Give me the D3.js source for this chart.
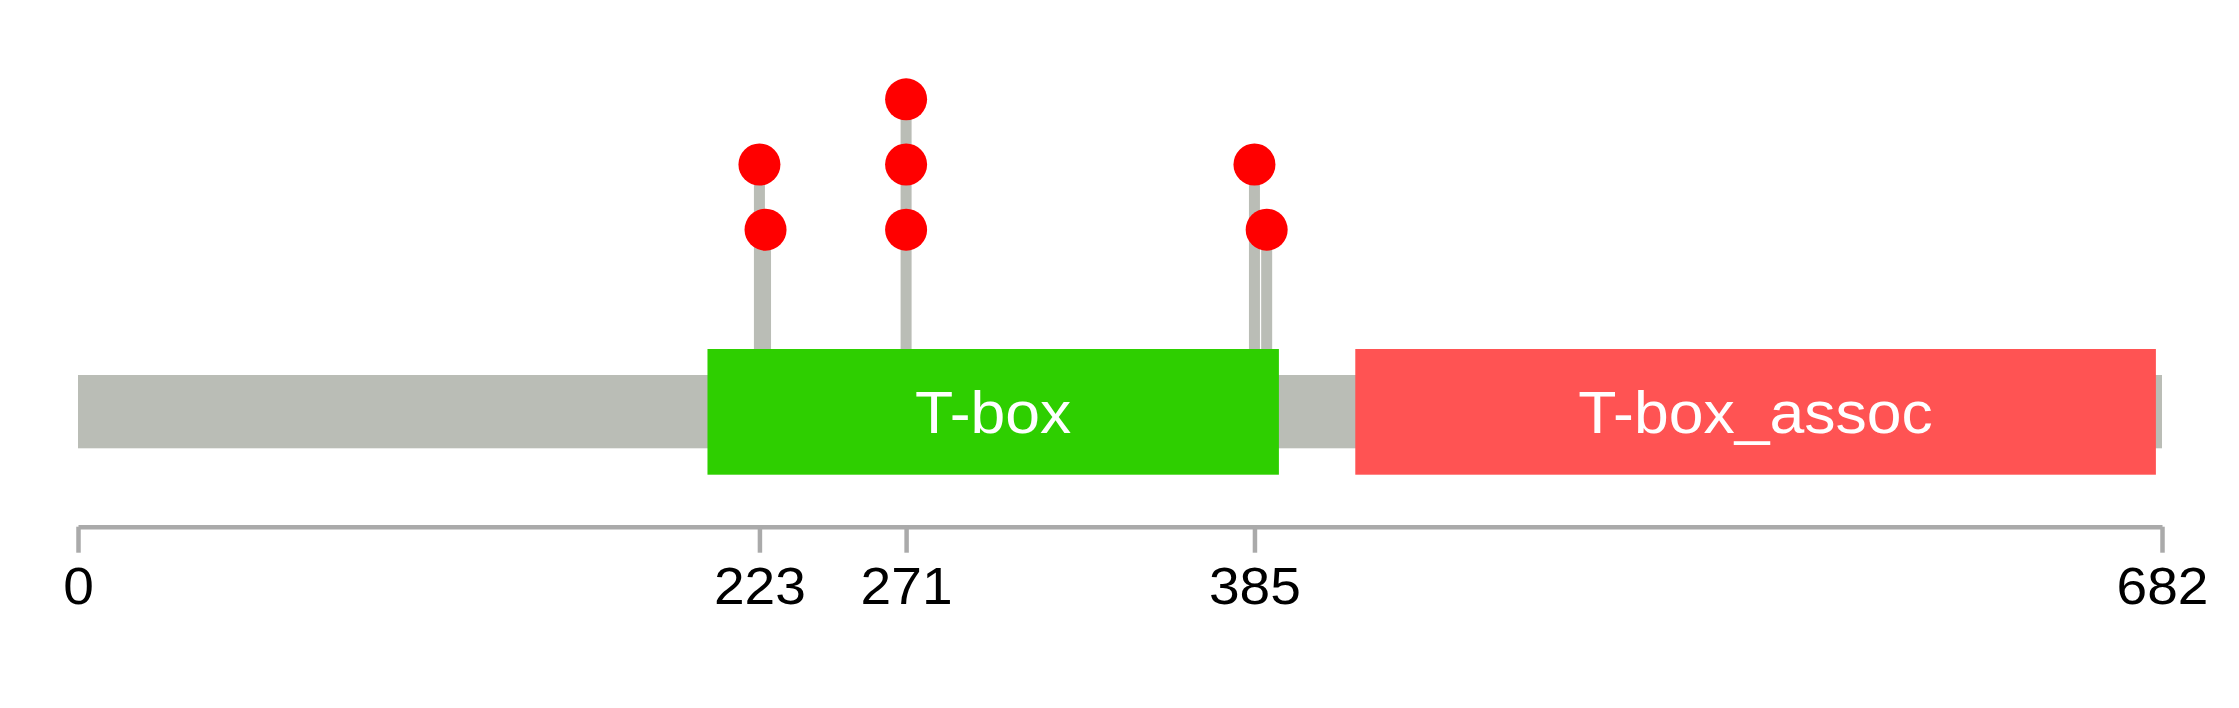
<!DOCTYPE html>
<html>
<head>
<meta charset="utf-8">
<script src="https://cdn.jsdelivr.net/npm/d3@7"></script>
<style>
  html, body { margin: 0; padding: 0; background: #ffffff; }
  svg { display: block; }
</style>
</head>
<body>
<svg id="chart" width="2239" height="708"></svg>
<script>
// ---- data ----
const proteinLength = 682;
const domainNames = ["T-box", "T-box_assoc"];
const domainStarts = [206, 418];
const domainEnds = [393, 680];
const domainColors = ["#2ecf00", "#ff5353"];
const mutPositions = [223, 225, 271, 271, 271, 385, 389];
const mutLevels = [2, 1, 1, 2, 3, 2, 1];
const tickValues = [0, 223, 271, 385, 682];

// ---- layout ----
const W = 2239, H = 708;
const svg = d3.select("#chart");
const x = d3.scaleLinear().domain([0, proteinLength]).range([78, 2162]);
const y = d3.scaleLinear().domain([1, 3]).range([229.7, 99.3]);

const backboneTop = 375, backboneH = 73.3;
const domainTop = 349, domainH = 125.7;
const axisY = 526.7;
const greyStem = "#babdb6";
const fontFam = "'Liberation Sans', Arial, Helvetica, sans-serif";

// stems (one per distinct position, up to highest level)
const stemMap = d3.rollup(
  mutPositions.map((p, i) => ({ p, l: mutLevels[i] })),
  v => d3.max(v, d => d.l),
  d => d.p
);
const stems = Array.from(stemMap, ([p, l]) => ({ p, l }));

svg.append("g").selectAll("line")
  .data(stems)
  .join("line")
  .attr("x1", d => x(d.p))
  .attr("x2", d => x(d.p))
  .attr("y1", backboneTop)
  .attr("y2", d => y(d.l))
  .attr("stroke", greyStem)
  .attr("stroke-width", 11);

// backbone
svg.append("rect")
  .attr("x", x(0))
  .attr("y", backboneTop)
  .attr("width", x(proteinLength) - x(0))
  .attr("height", backboneH)
  .attr("fill", greyStem);

// domains
const domains = domainNames.map((n, i) => ({ n, s: domainStarts[i], e: domainEnds[i], c: domainColors[i] }));
const dg = svg.append("g").selectAll("g").data(domains).join("g");
dg.append("rect")
  .attr("x", d => x(d.s))
  .attr("y", domainTop)
  .attr("width", d => x(d.e) - x(d.s))
  .attr("height", domainH)
  .attr("fill", d => d.c);
dg.append("text")
  .attr("transform", d => `translate(${(x(d.s) + x(d.e)) / 2},${domainTop + domainH / 2 + 21}) scale(1.06,1)`)
  .attr("text-anchor", "middle")
  .attr("font-family", fontFam)
  .attr("font-size", 59)
  .attr("fill", "#ffffff")
  .text(d => d.n);

// circles
svg.append("g").selectAll("circle")
  .data(mutPositions.map((p, i) => ({ p, l: mutLevels[i] })))
  .join("circle")
  .attr("cx", d => x(d.p))
  .attr("cy", d => y(d.l))
  .attr("r", 21)
  .attr("fill", "#ff0000");

// axis
const axis = d3.axisBottom(x)
  .tickValues(tickValues)
  .tickSize(26)
  .tickSizeOuter(0)
  .tickPadding(0)
  .tickFormat(d3.format("d"));
const ag = svg.append("g")
  .attr("transform", `translate(0,${axisY})`)
  .call(axis);
ag.select(".domain")
  .attr("stroke", "#aaaaaa")
  .attr("stroke-width", 4.5);
ag.selectAll(".tick line")
  .attr("stroke", "#aaaaaa")
  .attr("stroke-width", 4.5);
ag.selectAll(".tick text")
  .attr("y", 0)
  .attr("dy", 0)
  .attr("transform", `translate(0,${604 - axisY - 0}) scale(1.06,1)`)
  .attr("font-family", fontFam)
  .attr("font-size", 52)
  .attr("fill", "#000000");
</script>
</body>
</html>
